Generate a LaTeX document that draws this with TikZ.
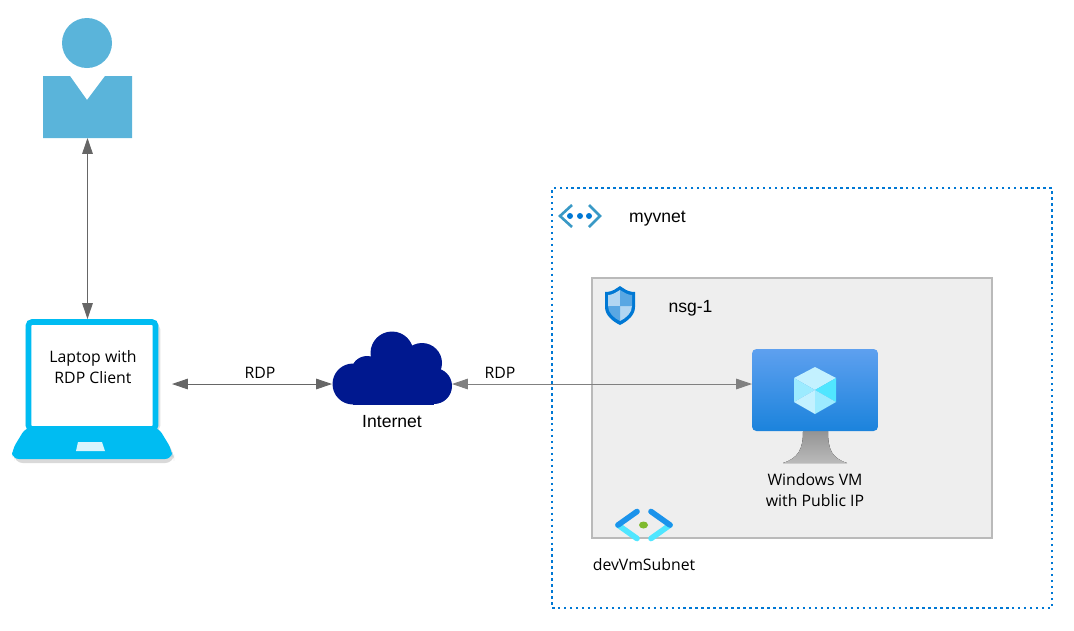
\documentclass[tikz,border=0pt]{standalone}
\usepackage{fontspec}
\usepackage{xcolor}
\setmainfont{Liberation Sans}
\newfontfamily\uifont{Open Sans}
\usetikzlibrary{arrows.meta}
\definecolor{azureblue}{HTML}{0078D4}
\definecolor{personblue}{HTML}{5AB4DA}
\definecolor{laptopblue}{HTML}{00BCF2}
\definecolor{cloudblue}{HTML}{00188F}
\definecolor{arrowgray}{HTML}{666666}
\definecolor{vnetblue}{HTML}{3999C6}
\definecolor{subnetblue}{HTML}{1B93EB}
\definecolor{subnetcyan}{HTML}{50E6FF}
\definecolor{subnetgreen}{HTML}{7FBA2D}
\definecolor{cubelight}{HTML}{C3F1FF}
\definecolor{cubemid}{HTML}{9CEBFF}
\definecolor{cubebright}{HTML}{50E6FF}
\definecolor{screentop}{HTML}{5EA0EF}
\definecolor{screenbottom}{HTML}{1B83DC}

\begin{document}
\begin{tikzpicture}[
            x=0.02cm, y=-0.02cm,
            spot/.style={inner sep=0pt, outer sep=0pt, rectangle},
            label/.style={inner sep=0pt, font=\fontsize{10}{12}\selectfont},
            uilabel/.style={inner sep=0pt, align=center, text=black, font=\uifont\fontsize{9}{12}\selectfont},
            arrow/.style={{Triangle[length=9pt,width=6pt]}-{Triangle[length=9pt,width=6pt]}, arrowgray, line width=0.5pt},
            chevron/.style={line width=3.2pt, line cap=round}
        ]
            \useasboundingbox (0,0) rectangle (1074,630);

            % --- NETWORK BOXES ---
            \node[spot, draw=azureblue, line width=1.4pt, dash pattern=on 1.4pt off 2pt, minimum width=10cm, minimum height=8.4cm] (vnet) at (802,398) {};
            \node[spot, draw=black!27, fill=black!6.5, line width=1.1pt, minimum width=8cm, minimum height=5.2cm] (nsg) at (792,408) {};

            % --- USER ---
            \node[spot, minimum width=1.78cm, minimum height=2.5cm] (user) at (87.5,75.5) {};
            \fill[personblue] (87,43) circle (25);
            \fill[personblue] (43,76) -- (70,76) -- (87,100) -- (105,76) -- (132,76) -- (132,138) -- (43,138) -- cycle;

            % --- LAPTOP ---
            \node[spot, minimum width=3.2cm, minimum height=2.8cm] (laptop) at (92,389) {};
            \draw[black, opacity=0.12, line width=5pt, rounded corners=3pt] (30,325) rectangle (156,430);
            \fill[black, opacity=0.15, rounded corners=5pt] (30,432) -- (159,432) -- (174,452) -- (174,463) -- (14,463) -- (14,452) -- cycle;
            \fill[white] (29,322) rectangle (155,430);
            \draw[laptopblue, line width=3.2pt, rounded corners=2pt] (28.5,322) rectangle (155.5,429);
            \fill[laptopblue, rounded corners=4pt] (26,427) -- (158,427) -- (172,450) -- (172,459) -- (12,459) -- (12,450) -- cycle;
            \fill[white!85!laptopblue] (78,442) -- (102,442) -- (105,451) -- (76,451) -- cycle;
            \node[uilabel] (laptop_text) at (93,367) {Laptop with\\RDP Client};

            % --- INTERNET ---
            \node[spot, minimum width=2.4cm, minimum height=0.8cm] (cloud) at (392,384) {};
            \fill[cloudblue] (392,353) circle (21.5) (422,363) circle (20) (434,386) circle (18) (353,384) circle (20.5) (367,372) circle (16);
            \fill[cloudblue] (353,384) rectangle (434,404.5);
            \fill[cloudblue] (372,360) rectangle (425,390);
            \node[label] (internet) at (392,422) {Internet};

            % --- VNET AND NSG HEADERS ---
            \node[spot, minimum width=0.84cm, minimum height=0.46cm] (vnet_icon) at (580,216) {};
            \draw[vnetblue, line width=1.5pt] (572,205) -- (560,216) -- (572,227);
            \draw[vnetblue, line width=1.5pt] (589,205) -- (600,216) -- (589,227);
            \fill[azureblue] (570,216) circle (3) (580,216) circle (3) (589,216) circle (3);
            \node[label] (vnet_text) at (657.5,218.5) {myvnet};

            \node[spot, minimum width=0.6cm, minimum height=0.78cm] (shield) at (620,305.5) {};
            \fill[azureblue] (620,286) -- (623,288) .. controls (627,291) and (631,292) .. (635,292) -- (635,307) .. controls (635,315) and (628,321) .. (620,325) .. controls (612,321) and (605,315) .. (605,307) -- (605,292) .. controls (609,292) and (613,291) .. (617,288) -- cycle;
            \fill[white!70!azureblue] (620,290) .. controls (615,293) and (612,295) .. (608,295) -- (608,306) -- (620,306) -- cycle;
            \fill[white!70!azureblue] (620,306) -- (632,306) .. controls (632,313) and (626,318) .. (620,321) -- cycle;
            \fill[white!35!azureblue] (620,290) .. controls (625,293) and (628,295) .. (632,295) -- (632,306) -- (620,306) -- cycle;
            \fill[white!35!azureblue] (620,306) -- (608,306) .. controls (608,313) and (614,318) .. (620,321) -- cycle;
            \node[label] (nsg_text) at (690.5,308) {nsg-1};

            % --- VM ---
            \fill[top color=black!42, bottom color=black!27] (803,431) -- (828,431) .. controls (828,450) and (832,458) .. (847,463) -- (783,463) .. controls (798,458) and (803,450) .. (803,431) -- cycle;
            \node[spot, minimum width=2.52cm, minimum height=1.64cm, rounded corners=2.5pt, top color=screentop, bottom color=screenbottom] (vm) at (815,390) {};
            \fill[cubelight] (815,367) -- (836,378) -- (815,390) -- (794,378) -- cycle;
            \fill[cubemid] (794,378) -- (815,390) -- (794,402) -- cycle;
            \fill[cubelight] (794,402) -- (815,390) -- (815,414) -- cycle;
            \fill[cubebright] (836,378) -- (815,390) -- (836,402) -- cycle;
            \fill[cubemid] (836,402) -- (815,390) -- (815,414) -- cycle;
            \node[uilabel] (vm_text) at (815,490.5) {Windows VM\\with Public IP};

            % --- SUBNET ---
            \node[spot, minimum width=1.2cm, minimum height=0.68cm] (subnet_icon) at (644,525) {};
            \draw[chevron, subnetcyan] (618,525) -- (637,538.5);
            \draw[chevron, subnetcyan] (670,525) -- (651,538.5);
            \draw[chevron, subnetblue] (637,511.5) -- (618,525);
            \draw[chevron, subnetblue] (651,511.5) -- (670,525);
            \fill[subnetgreen] (643.5,525) ellipse (4.5 and 3.5);
            \node[uilabel] (subnet_text) at (644,565) {devVmSubnet};

            % --- CONNECTORS ---
            \draw[arrow] (user.south) -- (user.south |- laptop.north);
            \draw[arrow] (laptop.east |- cloud.west) -- node[pos=0.55, above=3pt, uilabel] (rdp_left) {RDP} (cloud.west);
            \draw[arrow, color=black!50] (cloud.east) -- node[pos=0.16, above=3pt, uilabel] (rdp_right) {RDP} (cloud.east -| vm.west);

        \end{tikzpicture}
\end{document}
